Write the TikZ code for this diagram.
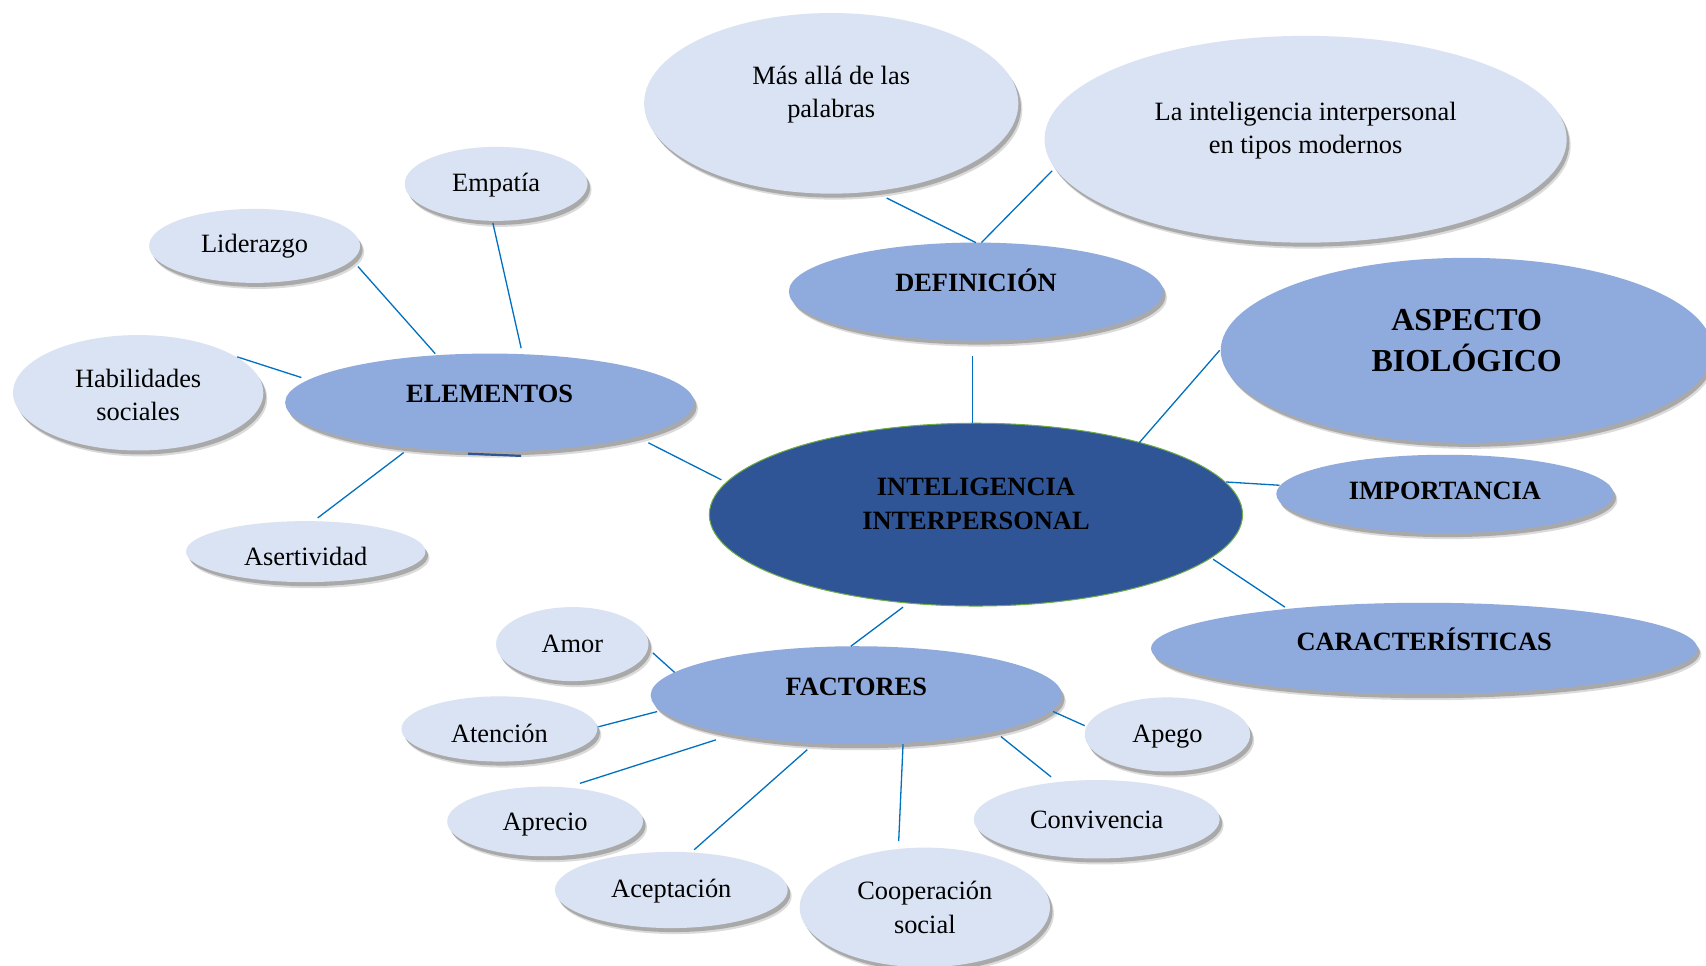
\documentclass[tikz,border=0pt]{standalone}
\usepackage{fontspec}
\setmainfont{Liberation Serif}
\usetikzlibrary{shapes.geometric,shadows,calc}
\definecolor{lightb}{HTML}{DAE3F3}
\definecolor{midb}{HTML}{8FAADC}
\definecolor{darkb}{HTML}{2F5597}
\definecolor{lineb}{HTML}{0070C0}
\definecolor{greenb}{HTML}{70AD47}
\tikzset{
  shad/.style={drop shadow={shadow xshift=2pt,shadow yshift=-3pt,fill=black!70,opacity=0.2},
               drop shadow={shadow xshift=1.3pt,shadow yshift=-2pt,fill=black!70,opacity=0.35}},
  ellbase/.style={ellipse,inner sep=0pt,draw=none},
  lightell/.style={ellbase,fill=lightb,shad},
  midell/.style={ellbase,fill=midb,shad},
  txt/.style={inner sep=0pt,align=center,font=\fontsize{13.2}{16.9}\selectfont},
  btxt/.style={txt,font=\fontsize{13.2}{16.9}\selectfont\bfseries},
  conn/.style={draw=lineb,line width=0.65pt},
}
\begin{document}
\begin{tikzpicture}[x=0.544pt,y=-0.544pt]
\useasboundingbox[fill=white] (0,0) rectangle (1568,887);
% ellipses
\node[lightell,minimum width=187.1pt,minimum height=90.3pt] (masalla) at (764,95) {};
\node[lightell,minimum width=261.1pt,minimum height=103.4pt] (latipos) at (1200,128) {};
\node[midell,minimum width=187.1pt,minimum height=49pt] (def) at (897,268) {};
\node[midell,minimum width=245.9pt,minimum height=92.5pt] (asp) at (1348,322) {};
\node[midell,minimum width=168.6pt,minimum height=39.2pt] (imp) at (1328,454) {};
\node[midell,minimum width=273.1pt,minimum height=45.7pt] (car) at (1309,596) {};
\node[ellbase,fill=darkb,draw=greenb,line width=0.5pt,minimum width=266.6pt,minimum height=91.4pt] (cen) at (897,473) {};
\node[midell,minimum width=204.5pt,minimum height=49pt] (elem) at (450,370) {};
\node[lightell,minimum width=91.4pt,minimum height=37pt] (emp) at (456,169) {};
\node[lightell,minimum width=105.5pt,minimum height=37pt] (lid) at (234,226) {};
\node[lightell,minimum width=125.1pt,minimum height=57.7pt] (hab) at (127,361) {};
\node[lightell,minimum width=119.7pt,minimum height=30.5pt] (ase) at (281,507) {};
\node[midell,minimum width=205.6pt,minimum height=49pt] (fac) at (787,639) {};
\node[lightell,minimum width=76.2pt,minimum height=37pt] (amor) at (526,592) {};
\node[lightell,minimum width=97.9pt,minimum height=32.6pt] (ate) at (459,670) {};
\node[lightell,minimum width=97.9pt,minimum height=34.8pt] (apr) at (501,755) {};
\node[lightell,minimum width=116.4pt,minimum height=38.1pt] (ace) at (617,818) {};
\node[lightell,minimum width=125.1pt,minimum height=59.8pt] (coop) at (850,834) {};
\node[lightell,minimum width=122.9pt,minimum height=39.2pt] (conv) at (1008,753) {};
\node[lightell,minimum width=82.7pt,minimum height=37pt] (apego) at (1073,675) {};
% texts
\node[txt] (masalla-t) at (764,87) {Más allá de las\\palabras};
\node[txt] (latipos-t) at (1200,120) {La inteligencia interpersonal\\en tipos modernos};
\node[btxt] (def-t) at (897,258) {DEFINICIÓN};
\node[txt,font=\fontsize{16}{20.7}\selectfont\bfseries] (asp-t) at (1348,313) {ASPECTO\\BIOLÓGICO};
\node[btxt] (imp-t) at (1328,451) {IMPORTANCIA};
\node[btxt] (car-t) at (1309,588) {CARACTERÍSTICAS};
\node[btxt] (cen-t) at (897,463) {INTELIGENCIA\\INTERPERSONAL};
\node[btxt] (elem-t) at (450,362) {ELEMENTOS};
\node[txt] (emp-t) at (456,170) {Empatía};
\node[txt] (lid-t) at (234,226) {Liderazgo};
\node[txt] (hab-t) at (127,363) {Habilidades\\sociales};
\node[txt] (ase-t) at (281,511) {Asertividad};
\node[btxt] (fac-t) at (787,631) {FACTORES};
\node[txt] (amor-t) at (526,592) {Amor};
\node[txt] (ate-t) at (459,674) {Atención};
\node[txt] (apr-t) at (501,758) {Aprecio};
\node[txt] (ace-t) at (617,819) {Aceptación};
\node[txt] (coop-t) at (850,834) {Cooperación\\social};
\node[txt] (conv-t) at (1008,754) {Convivencia};
\node[txt] (apego-t) at (1073,677) {Apego};
% connectors
\draw[conn] ($(masalla)+(51,87)$) -- ($(def)+(0,-45)$);
\draw[conn] ($(latipos)+(-233,29)$) -- ($(def)+(5,-45)$);
\draw[conn] ($(def)+(-3,59)$) -- ($(cen)+(-3,-84)$);
\draw[conn] ($(cen)+(150,-66)$) -- ($(asp)+(-227,0)$);
\draw[conn] ($(cen)+(230,-30)$) -- ($(imp)+(-152,-8)$);
\draw[conn] ($(cen)+(218,41)$) -- ($(car)+(-128,-38)$);
\draw[conn] ($(cen)+(-67,85)$) -- ($(fac)+(-5,-45)$);
\draw[conn] ($(cen)+(-234,-32)$) -- ($(elem)+(146,37)$);
\draw[conn] ($(elem)+(29,-50)$) -- ($(emp)+(-3,36)$);
\draw[conn] ($(elem)+(-50,-45)$) -- ($(lid)+(95,19)$);
\draw[conn] ($(elem)+(-173,-23)$) -- ($(hab)+(91,-33)$);
\draw[conn] ($(elem)+(-79,46)$) -- ($(ase)+(11,-31)$);
\draw[draw=darkb,line width=1.1pt] ($(elem)+(-20,47)$) -- ($(elem)+(29,49)$);
\draw[conn] ($(fac)+(-167,-21)$) -- ($(amor)+(74,8)$);
\draw[conn] ($(fac)+(-183,15)$) -- ($(ate)+(91,-2)$);
\draw[conn] ($(fac)+(-129,41)$) -- ($(apr)+(32,-35)$);
\draw[conn] ($(fac)+(-45,50)$) -- ($(ace)+(21,-37)$);
\draw[conn] ($(fac)+(43,45)$) -- ($(coop)+(-24,-61)$);
\draw[conn] ($(fac)+(133,38)$) -- ($(conv)+(-42,-39)$);
\draw[conn] ($(fac)+(181,15)$) -- ($(apego)+(-76,-8)$);
\end{tikzpicture}
\end{document}
